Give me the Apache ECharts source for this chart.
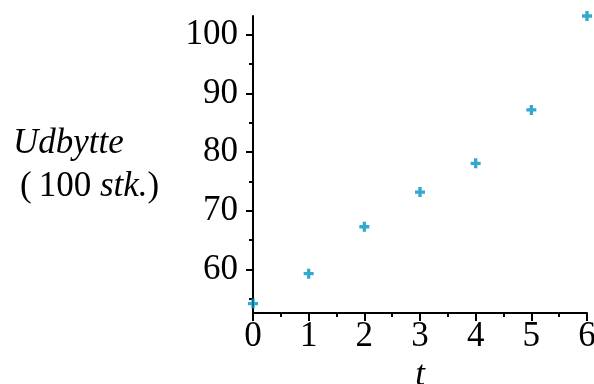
<!DOCTYPE html>
<html>
<head>
<meta charset="utf-8">
<script src="https://cdn.jsdelivr.net/npm/echarts@6/dist/echarts.min.js"></script>
<style>
  html, body { margin: 0; padding: 0; background: #fff; }
  #chart { width: 594px; height: 384px; }
</style>
</head>
<body>
<div id="chart"></div>
<script>
// data
const tValues = [0, 1, 2, 3, 4, 5, 6];
const udbytte = [54.2, 59.3, 67.3, 73.2, 78.1, 87.2, 103.2];
const yMajorTicks = [60, 70, 80, 90, 100];
const yMinorTicks = [55, 65, 75, 85, 95];
const yRange = [52.6, 103.2];
const xRange = [0, 6];

const serif = '"Liberation Serif", "DejaVu Serif", serif';
const chart = echarts.init(document.getElementById("chart"));

const points = tValues.map((t, i) => [t, udbytte[i]]);

const option = {
  animation: false,
  backgroundColor: "#fff",
  grid: { left: 253, right: 7, top: 16, bottom: 71, outerBoundsMode: "none", containLabel: false },
  xAxis: {
    type: "value",
    min: xRange[0],
    max: xRange[1],
    interval: 1,
    name: "t",
    nameLocation: "middle",
    nameGap: 45,
    nameMoveOverlap: false,
    nameTextStyle: { fontFamily: serif, fontSize: 35, fontStyle: "italic", color: "#000" },
    axisLine: { lineStyle: { color: "#000", width: 2 } },
    axisTick: { length: 8, lineStyle: { color: "#000", width: 2 } },
    minorTick: { show: true, splitNumber: 2, length: 4, lineStyle: { color: "#000", width: 2 } },
    axisLabel: { fontFamily: serif, fontSize: 35, color: "#000", margin: 6 },
    splitLine: { show: false },
  },
  yAxis: [
    {
      type: "value",
      min: yRange[0],
      max: yRange[1],
      axisLine: { show: true, lineStyle: { color: "#000", width: 2 } },
      axisTick: { length: 7, customValues: yMajorTicks, lineStyle: { color: "#000", width: 2 } },
      axisLabel: { fontFamily: serif, fontSize: 35, color: "#000", margin: 15, customValues: yMajorTicks },
      splitLine: { show: false },
    },
    {
      // minor ticks only
      type: "value",
      min: yRange[0],
      max: yRange[1],
      position: "left",
      axisLine: { show: false },
      axisTick: { length: 4, customValues: yMinorTicks, lineStyle: { color: "#000", width: 2 } },
      axisLabel: { show: false },
      splitLine: { show: false },
    },
  ],
  graphic: [
    {
      type: "text",
      left: 13,
      top: 126,
      style: {
        text: "{i|Udbytte}\n{n|\u2009(\u2009100 }{i|stk.}{n|)}",
        rich: {
          i: { fontFamily: serif, fontSize: 35, fontStyle: "italic", fill: "#000", lineHeight: 43 },
          n: { fontFamily: serif, fontSize: 35, fill: "#000", lineHeight: 43 },
        },
      },
    },
  ],
  series: [
    {
      type: "scatter",
      data: points,
      symbol: "path://M3,0h3v3h3v3h-3v3h-3v-3h-3v-3h3z",
      symbolSize: 10,
      itemStyle: { color: "#0093c4" },
      clip: false,
    },
  ],
};

chart.setOption(option);
</script>
</body>
</html>
